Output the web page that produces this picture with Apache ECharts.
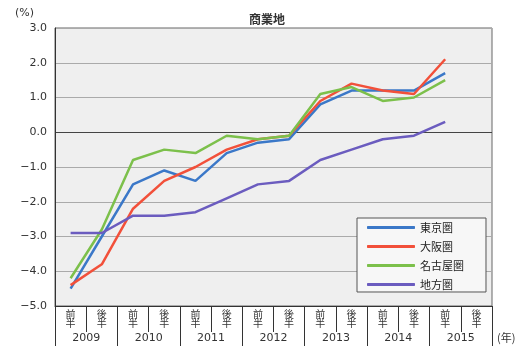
<!DOCTYPE html>
<html>
<head>
<meta charset="utf-8">
<script src="https://cdn.jsdelivr.net/npm/echarts@6/dist/echarts.min.js"></script>
<style>
html, body { margin: 0; padding: 0; background: #fff; }
#main { width: 515px; height: 346px; }
</style>
</head>
<body>
<div id="main"></div>
<script>
// half-year categories and years
var halves = ['前\n半', '後\n半', '前\n半', '後\n半', '前\n半', '後\n半', '前\n半', '後\n半',
    '前\n半', '後\n半', '前\n半', '後\n半', '前\n半', '後\n半'];
var years = ['2009', '2010', '2011', '2012', '2013', '2014', '2015'];

var names = ['東京圏', '大阪圏', '名古屋圏', '地方圏'];
var tokyo = [-4.5, -3.0, -1.5, -1.1, -1.4, -0.6, -0.3, -0.2, 0.8, 1.2, 1.2, 1.2, 1.7];
var osaka = [-4.4, -3.8, -2.2, -1.4, -1.0, -0.5, -0.2, -0.1, 0.9, 1.4, 1.2, 1.1, 2.1];
var nagoya = [-4.2, -2.8, -0.8, -0.5, -0.6, -0.1, -0.2, -0.1, 1.1, 1.3, 0.9, 1.0, 1.5];
var chiho = [-2.9, -2.9, -2.4, -2.4, -2.3, -1.9, -1.5, -1.4, -0.8, -0.5, -0.2, -0.1, 0.3];
var colors = ['#3b78c8', '#f2503a', '#7cc04b', '#6b5cbf'];

var chartDom = document.getElementById('main');
var myChart = echarts.init(chartDom);
var cjk = '"Noto Sans CJK JP", sans-serif';
var num = '"DejaVu Sans", sans-serif';

function line(name, data, i) {
    return {
        name: name,
        type: 'line',
        data: data,
        showSymbol: false,
        symbol: 'none',
        lineStyle: { width: 2.5, color: colors[i] },
        itemStyle: { color: colors[i] }
    };
}

var option = {
    animation: false,
    backgroundColor: '#fff',
    title: {
        text: '商業地',
        left: 262,
        textAlign: 'center',
        top: 8,
        textStyle: { fontFamily: cjk, fontSize: 12, fontWeight: 'bold', color: '#333' }
    },
    legend: {
        data: names,
        orient: 'vertical',
        left: 357,
        top: 218,
        padding: [4, 22, 2, 10],
        itemWidth: 48,
        itemHeight: 3,
        itemGap: 8,
        icon: 'roundRect',
        backgroundColor: '#f7f7f7',
        borderColor: '#555',
        borderWidth: 1,
        textStyle: { fontFamily: cjk, fontSize: 11, color: '#222' }
    },
    grid: {
        left: 55, right: 23, top: 28, bottom: 40,
        show: true,
        backgroundColor: '#efefef',
        borderColor: '#666',
        borderWidth: 1
    },
    graphic: [
        { type: 'text', left: 15, top: 8, style: { text: '(%)', font: '11px "DejaVu Sans"', fill: '#333' } },
        { type: 'text', left: 497, top: 332, style: { text: '(年)', font: '11px "Noto Sans CJK JP"', fill: '#333' } }
    ],
    xAxis: [
        {
            type: 'category',
            data: halves,
            position: 'bottom',
            axisLine: { show: true, onZero: false, lineStyle: { color: '#333', width: 1 } },
            axisTick: { show: true, interval: 0, length: 26, lineStyle: { color: '#333' } },
            axisLabel: { interval: 0, margin: 4, fontFamily: cjk, fontSize: 10, lineHeight: 9, color: '#333' },
            splitLine: { show: false }
        },
        {
            type: 'category',
            data: years,
            position: 'bottom',
            axisLine: { show: false, onZero: false },
            axisTick: { show: true, interval: 0, length: 40, lineStyle: { color: '#333' } },
            axisLabel: { interval: 0, margin: 27, fontFamily: num, fontSize: 11, color: '#333' },
            splitLine: { show: false }
        }
    ],
    yAxis: {
        type: 'value',
        min: -5,
        max: 3,
        interval: 1,
        axisLine: { show: true, lineStyle: { color: '#333' } },
        axisTick: { show: false },
        axisLabel: {
            margin: 8,
            fontFamily: num,
            fontSize: 11,
            color: '#333',
            formatter: function (v) { return v.toFixed(1).replace('-', '\u2212'); }
        },
        splitLine: {
            show: true,
            lineStyle: {
                color: ['#aaa', '#aaa', '#aaa', '#aaa', '#aaa', '#444', '#aaa', '#aaa', '#aaa'],
                width: 1
            }
        }
    },
    series: [
        line(names[0], tokyo, 0),
        line(names[1], osaka, 1),
        line(names[2], nagoya, 2),
        line(names[3], chiho, 3)
    ]
};

option && myChart.setOption(option);
</script>
</body>
</html>
